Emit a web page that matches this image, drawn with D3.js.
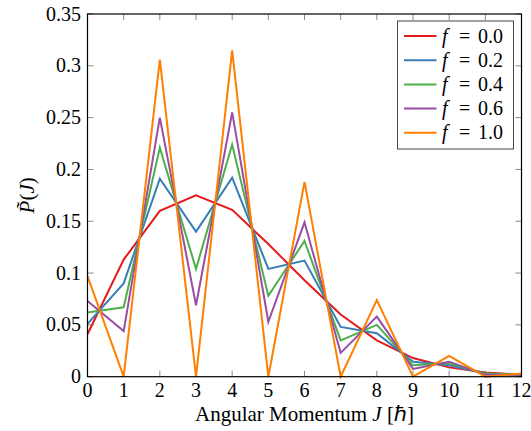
<!DOCTYPE html>
<html>
<head>
<script src="https://cdn.jsdelivr.net/npm/d3@7"></script>
</head>
<body style="margin:0">
<svg id="chart" width="531" height="431"></svg>
<script>
// angular momentum values
var J = [0, 1, 2, 3, 4, 5, 6, 7, 8, 9, 10, 11, 12];

// series
var f00 = [0.041, 0.113, 0.160, 0.175, 0.161, 0.128, 0.093, 0.060, 0.035, 0.018, 0.009, 0.004, 0.002];
var f02 = [0.051, 0.090, 0.191, 0.140, 0.192, 0.104, 0.112, 0.048, 0.042, 0.0145, 0.011, 0.003, 0.002];
var f04 = [0.062, 0.067, 0.221, 0.104, 0.224, 0.078, 0.131, 0.035, 0.050, 0.011, 0.013, 0.003, 0.002];
var f06 = [0.073, 0.044, 0.250, 0.069, 0.255, 0.053, 0.149, 0.023, 0.058, 0.0075, 0.0145, 0.002, 0.002];
var f10 = [0.097, 0.000, 0.306, 0.000, 0.315, 0.000, 0.188, 0.000, 0.074, 0.000, 0.020, 0.000, 0.003];

var labels = ["0.0", "0.2", "0.4", "0.6", "1.0"];
var colors = ["#e41a1c", "#377eb8", "#4daf4a", "#984ea3", "#ff7f00"];
var yTicks = [0, 0.05, 0.1, 0.15, 0.2, 0.25, 0.3, 0.35];

var series = [f00, f02, f04, f06, f10];

var svg = d3.select("#chart");
var pLeft = 87.5, pRight = 521.5, pTop = 14, pBottom = 376.7;

var x = d3.scaleLinear().domain([0, 12]).range([pLeft, pRight]);
var y = d3.scaleLinear().domain([0, 0.35]).range([pBottom, pTop]);

function txt(px, py, s, size) {
  return svg.append("text")
    .attr("x", px).attr("y", py)
    .style("font-family", "'Times New Roman'")
    .style("font-size", size + "px")
    .text(s);
}

// tick marks, inside, on all four sides
var tickLen = 6;
J.forEach(function(d) {
  svg.append("line").attr("x1", x(d)).attr("x2", x(d)).attr("y1", pBottom).attr("y2", pBottom - tickLen).attr("stroke", "#888");
  svg.append("line").attr("x1", x(d)).attr("x2", x(d)).attr("y1", pTop).attr("y2", pTop + tickLen).attr("stroke", "#888");
  txt(x(d), pBottom + 20, String(d), 20).attr("text-anchor", "middle");
});
yTicks.forEach(function(d) {
  svg.append("line").attr("x1", pLeft).attr("x2", pLeft + tickLen).attr("y1", y(d)).attr("y2", y(d)).attr("stroke", "#888");
  svg.append("line").attr("x1", pRight).attr("x2", pRight - tickLen).attr("y1", y(d)).attr("y2", y(d)).attr("stroke", "#888");
  txt(pLeft - 6.5, y(d) + 6.5, d === 0 ? "0" : String(+d.toFixed(2)), 20).attr("text-anchor", "end");
});

// lines
var line = d3.line()
  .x(function(d, i) { return x(J[i]); })
  .y(function(d) { return y(d); });

series.forEach(function(s, k) {
  svg.append("path")
    .datum(s)
    .attr("fill", "none")
    .attr("stroke", colors[k])
    .attr("stroke-width", 2)
    .attr("d", line);
});

// frame
svg.append("rect")
  .attr("x", pLeft).attr("y", pTop)
  .attr("width", pRight - pLeft).attr("height", pBottom - pTop)
  .attr("fill", "none").attr("stroke", "#000").attr("stroke-width", 1.2);

// legend
svg.append("rect")
  .attr("x", 397.5).attr("y", 21)
  .attr("width", 116).attr("height", 128)
  .attr("fill", "#fff").attr("stroke", "#444").attr("stroke-width", 1);
labels.forEach(function(l, k) {
  var ly = 36 + k * 24.2;
  svg.append("line")
    .attr("x1", 404).attr("x2", 436.5)
    .attr("y1", ly).attr("y2", ly)
    .attr("stroke", colors[k]).attr("stroke-width", 2);
  txt(442, ly + 6.5, "f", 20).style("font-style", "italic");
  txt(459, ly + 6.5, "=", 20);
  txt(478, ly + 6.5, l, 20);
});

// axis labels
var xl = txt((pLeft + pRight) / 2, 421, "", 21).attr("text-anchor", "middle");
xl.append("tspan").text("Angular Momentum ");
xl.append("tspan").style("font-style", "italic").text("J");
xl.append("tspan").text(" [\u210F]");

var yl = txt(0, 0, "", 21)
  .attr("transform", "translate(34," + ((pTop + pBottom) / 2) + ") rotate(-90)")
  .attr("text-anchor", "middle");
yl.append("tspan").style("font-style", "italic").text("P\u0303");
yl.append("tspan").text("(");
yl.append("tspan").style("font-style", "italic").text("J");
yl.append("tspan").text(")");
</script>
</body>
</html>
